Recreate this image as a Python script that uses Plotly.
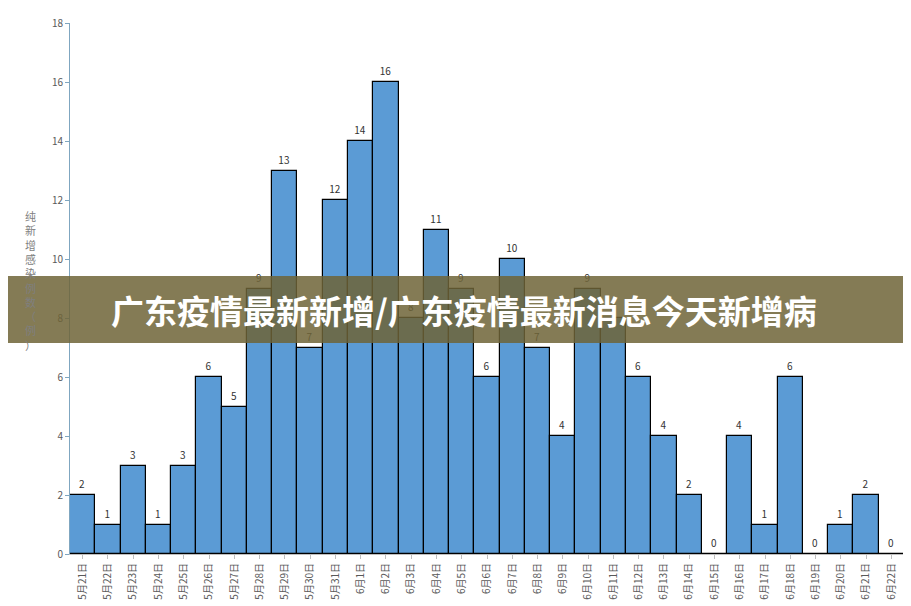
import plotly.graph_objects as go

dates = ["5月21日","5月22日","5月23日","5月24日","5月25日","5月26日","5月27日","5月28日","5月29日","5月30日","5月31日",
         "6月1日","6月2日","6月3日","6月4日","6月5日","6月6日","6月7日","6月8日","6月9日","6月10日","6月11日",
         "6月12日","6月13日","6月14日","6月15日","6月16日","6月17日","6月18日","6月19日","6月20日","6月21日","6月22日"]
values = [2,1,3,1,3,6,5,9,13,7,12,14,16,8,11,9,6,10,7,4,9,8,6,4,2,0,4,1,6,0,1,2,0]
y_ticks = [0,2,4,6,8,10,12,14,16,18]
y_title = "纯新增感染例数（例）"
banner = "广东疫情最新新增/广东疫情最新消息今天新增病"

fig = go.Figure(go.Bar(
    x=dates, y=values, text=values, textposition="outside",
    textfont=dict(size=10, color="#333"), cliponaxis=False,
    marker=dict(color="#5b9bd5", line=dict(color="black", width=1.2)),
))
fig.update_layout(
    width=911, height=606, margin=dict(l=62, r=15, t=15, b=60, autoexpand=False),
    plot_bgcolor="white", paper_bgcolor="white", bargap=0, showlegend=False,
    font=dict(family="Noto Sans CJK SC", color="#595959"),
    xaxis=dict(type="category", tickangle=-90, tickfont=dict(size=10), showline=True, automargin=False,
               linecolor="#bfbfbf", ticks="outside", ticklen=4, tickcolor="#bfbfbf"),
    yaxis=dict(range=[0,18], tickvals=y_ticks, tickfont=dict(size=10), showgrid=False, automargin=False,
               showline=True, linecolor="#7fa6c0", ticks="outside", ticklen=4, tickcolor="#7fa6c0", zeroline=False),
)
fig.add_annotation(text="<br>".join(list(y_title)), xref="paper", x=-40/834, y=(546-272)/531, yref="paper",
                   xanchor="center", yanchor="middle", showarrow=False,
                   font=dict(size=11, color="#7f7f7f"))
fig.add_shape(type="rect", xref="paper", yref="paper", x0=-62/834, x1=(911-62)/834,
              y0=(546-335)/531, y1=(546-268)/531, fillcolor="rgba(110,100,55,0.85)", line_width=0, layer="above")
fig.add_annotation(text="<b>"+banner+"</b>", xref="paper", yref="paper", x=(456-62)/834, y=(546-302)/531,
                   showarrow=False, font=dict(size=33, color="white", family="Noto Sans CJK SC"))
fig.write_html("out.html")
